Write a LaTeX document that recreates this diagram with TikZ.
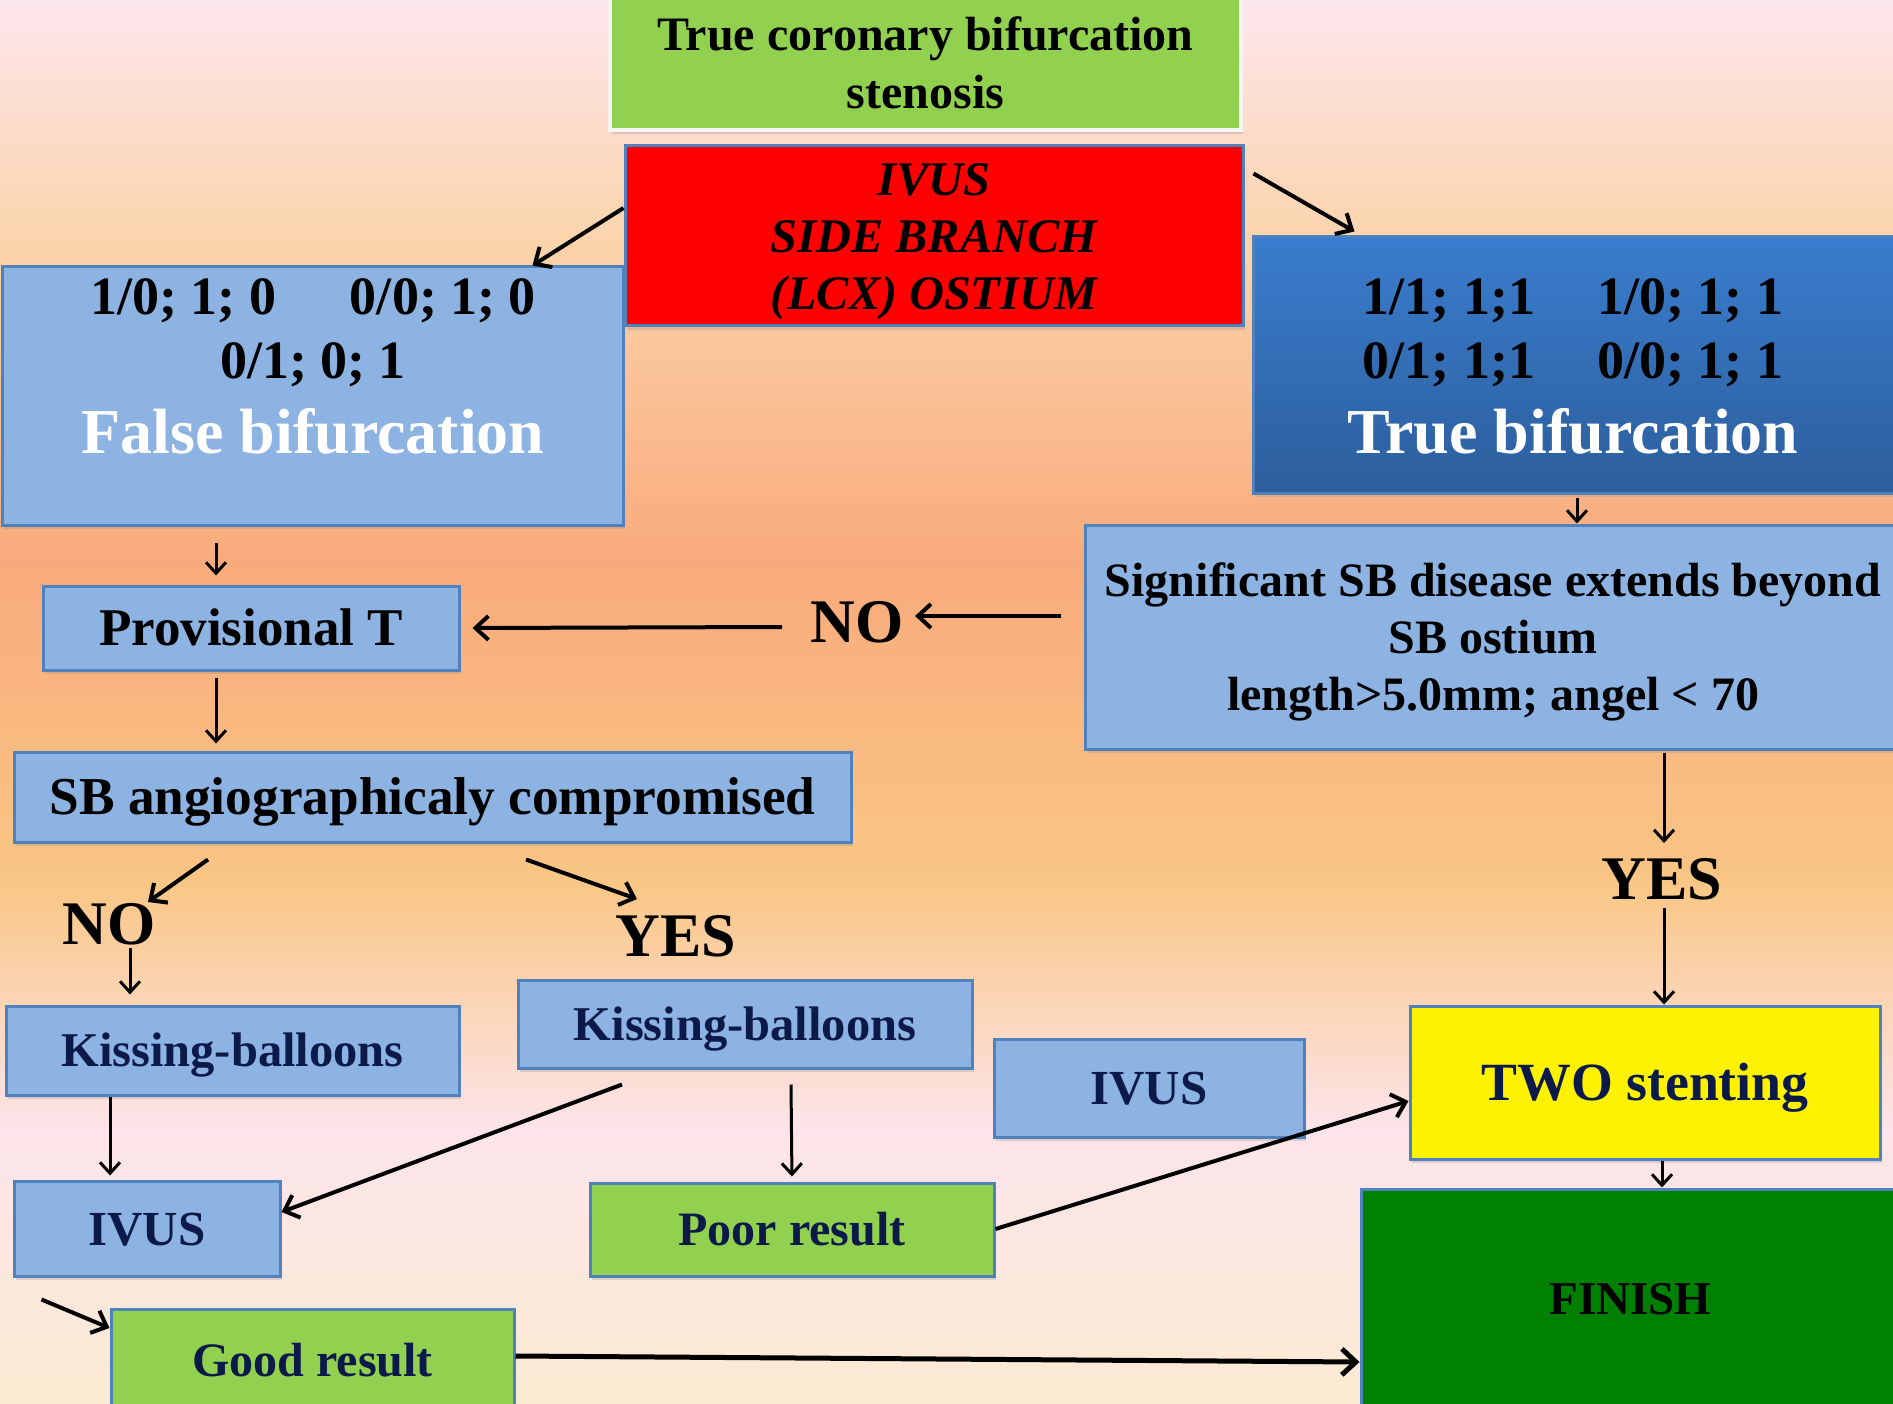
\documentclass[tikz,border=0pt]{standalone}
\usepackage{fontspec}
\setmainfont{Liberation Serif}
\usetikzlibrary{arrows.meta,shadows,calc}
\definecolor{lblue}{RGB}{141,179,226}
\definecolor{bord}{RGB}{79,129,189}
\definecolor{tgreen}{RGB}{146,208,80}
\definecolor{dgreen}{RGB}{0,128,0}
\definecolor{tbtop}{RGB}{58,125,206}
\definecolor{tbbot}{RGB}{44,94,156}
\definecolor{navy}{RGB}{12,26,74}
\definecolor{bg0}{RGB}{253,230,236}
\definecolor{bg1}{RGB}{251,212,172}
\definecolor{bg2}{RGB}{249,170,124}
\definecolor{bg3}{RGB}{249,198,132}
\definecolor{bg4}{RGB}{252,228,234}
\definecolor{bg5}{RGB}{252,234,210}
\newcommand\mystrut{\rule[-0.216em]{0pt}{1.107em}}
\begin{document}
\begin{tikzpicture}[x=1pt,y=-1pt,
  box/.style={draw=bord, line width=3pt, fill=lblue, inner sep=0pt,
    drop shadow={shadow xshift=2pt,shadow yshift=-4pt,opacity=0.25}},
  bx/.style={font=\bfseries\fontsize{#1}{#1}\selectfont},
  lbl/.style={inner sep=0pt, font=\bfseries\fontsize{62}{62}\selectfont},
  arr/.style={-{Straight Barb[length=13pt,width=24pt]}, line width=4pt},
  arrthin/.style={-{Straight Barb[length=11pt,width=20pt]}, line width=3pt},
  arrthick/.style={-{Straight Barb[length=14pt,width=26pt]}, line width=5pt}]
\useasboundingbox (0,0) rectangle (1893,1404);
% background
\shade[top color=bg0,bottom color=bg1] (0,0) rectangle (1893,241);
\shade[top color=bg1,bottom color=bg2] (0,240) rectangle (1893,561);
\shade[top color=bg2,bottom color=bg3] (0,560) rectangle (1893,881);
\shade[top color=bg3,bottom color=bg4] (0,880) rectangle (1893,1131);
\shade[top color=bg4,bottom color=bg5] (0,1130) rectangle (1893,1404);

% nodes
\node[box, fill=tgreen, draw=white!92!gray, line width=4pt, minimum width=631pt, minimum height=134pt,
  align=center, font=\bfseries\fontsize{48}{58}\selectfont] (top) at (925.5,63)
  {\mystrut True coronary bifurcation\\stenosis\mystrut};
\node[box, fill=red, minimum width=618pt, minimum height=180pt,
  align=center, font=\bfseries\itshape\fontsize{48.3}{57}\selectfont] (red) at (934,236)
  {\mystrut IVUS\\SIDE BRANCH\\(LCX) OSTIUM};
\node[box, minimum width=621pt, minimum height=258pt] (fb) at (312.5,396) {};
\node[bx=54] (fbl1) at (313,296) {\mystrut 1/0; 1; 0\hspace{74pt}0/0; 1; 0};
\node[bx=54] (fbl2) at (313,360) {\mystrut 0/1; 0; 1};
\node[bx=64, text=white] (fbl3) at (313,432) {\mystrut False bifurcation};
\node[box, top color=tbtop, bottom color=tbbot, minimum width=650pt, minimum height=256pt] (tb) at (1578,365) {};
\node[bx=54] (tbl1) at (1573,296) {\mystrut 1/1; 1;1\hspace{62pt}1/0; 1; 1};
\node[bx=54] (tbl2) at (1573,360) {\mystrut 0/1; 1;1\hspace{62pt}0/0; 1; 1};
\node[bx=64, text=white] (tbl3) at (1573,432) {\mystrut True bifurcation};
\node[box, minimum width=416pt, minimum height=84pt, bx=53] (pt) at (251,628) {\mystrut Provisional T};
\node[box, minimum width=816pt, minimum height=224pt, align=center,
  font=\bfseries\fontsize{48}{57}\selectfont] (sig) at (1493,637)
  {\mystrut Significant SB disease extends beyond\\SB ostium\\length>5.0mm; angel < 70\mystrut};
\node[box, minimum width=837pt, minimum height=90pt, bx=53.3] (sb) at (432.5,797) {\mystrut SB angiographicaly compromised};
\node[box, minimum width=453pt, minimum height=89pt, bx=48.5, text=navy] (kb1) at (232.5,1050.5) {\mystrut Kissing-balloons};
\node[box, minimum width=454pt, minimum height=88pt, bx=48.5, text=navy] (kb2) at (745,1024) {\mystrut Kissing-balloons};
\node[box, minimum width=310pt, minimum height=98pt, bx=49, text=navy] (iv2) at (1149,1088) {\mystrut IVUS};
\node[box, fill=yellow, minimum width=470pt, minimum height=153pt, bx=53.8, text=navy] (two) at (1645,1082.5) {\mystrut TWO stenting};
\node[box, minimum width=266pt, minimum height=95pt, bx=49, text=navy] (iv1) at (147,1228.5) {\mystrut IVUS};
\node[box, fill=tgreen, minimum width=404pt, minimum height=93pt, bx=48, text=navy] (poor) at (792,1229.5) {\mystrut Poor result};
\node[box, fill=tgreen, minimum width=403pt, minimum height=102pt, bx=48, text=navy] (good) at (312.5,1360) {\mystrut Good result};
\node[box, fill=dgreen, minimum width=539pt, minimum height=221pt, bx=47] (fin) at (1630.5,1299.5) {FINISH\hspace{10pt}};

% labels
\node[lbl] (no1) at (857,622) {NO};
\node[lbl] (no2) at (109,924) {NO};
\node[lbl] (yes1) at (676,936) {YES};
\node[lbl] (yes2) at (1662,879) {YES};

% connectors
\draw[arr] ([yshift=28pt]red.west) -- ([xshift=-92pt]fb.north east);
\draw[arr] ([xshift=9pt,yshift=-29pt]red.north east) -- ([xshift=103pt,yshift=4pt]tb.north west);
\coordinate (c3) at ([xshift=-1pt]tb.south);
\draw[arrthin, shorten <=3pt] (c3) -- (c3 |- sig.north);
\draw[arr] ([xshift=-23pt,yshift=21pt]sig.west) -- ([xshift=58pt,yshift=6pt]no1.center);
\draw[arr] ([xshift=-75pt,yshift=-5pt]no1.center) -- ([xshift=12pt]pt.east);
\coordinate (c6) at ([xshift=-35pt]pt.north);
\draw[arrthin, shorten <=16pt, shorten >=9pt] (c6 |- fb.south) -- (c6);
\coordinate (c7) at ([xshift=-35pt]pt.south);
\draw[arrthin, shorten <=6pt, shorten >=7pt] (c7) -- (c7 |- sb.north);
\draw[arr] ([xshift=-224.5pt,yshift=-16pt]sb.south) -- ([xshift=39pt,yshift=22pt]no2.center);
\draw[arr] ([xshift=93.5pt,yshift=-16pt]sb.south) -- ([xshift=-39pt,yshift=37pt]yes1.center);
\draw[arrthin] ([xshift=21pt,yshift=-24pt]no2.center) -- ([xshift=-102.5pt,yshift=10pt]kb1.north);
\draw[arrthin, shorten >=4pt] ([xshift=-122.5pt]kb1.south) -- ([xshift=-37pt]iv1.north);
\draw[arr] ([xshift=-123pt,yshift=-15pt]kb2.south) -- ([yshift=16.5pt]iv1.east);
\draw[arrthin, shorten >=5pt] ([xshift=46pt,yshift=-15pt]kb2.south) -- (poor.north);
\draw[arr] ([xshift=29pt,yshift=-22pt]iv1.south west) -- ([yshift=32pt]good.west);
\draw[arrthick] ([yshift=4pt]good.east) -- ([yshift=-62.5pt]fin.west);
\draw[arr] ([yshift=0.5pt]poor.east) -- ([yshift=-18.5pt]two.west);
\coordinate (c17) at ([xshift=2pt]yes2.center);
\draw[arrthin, shorten <=2pt] (c17 |- sig.south) -- ([xshift=2pt,yshift=36pt]yes2.center);
\draw[arrthin] ([xshift=2pt,yshift=-29pt]yes2.center) -- (c17 |- two.north);
\coordinate (c19) at ([xshift=17pt]two.south);
\draw[arrthin] (c19) -- (c19 |- fin.north);
\end{tikzpicture}
\end{document}
